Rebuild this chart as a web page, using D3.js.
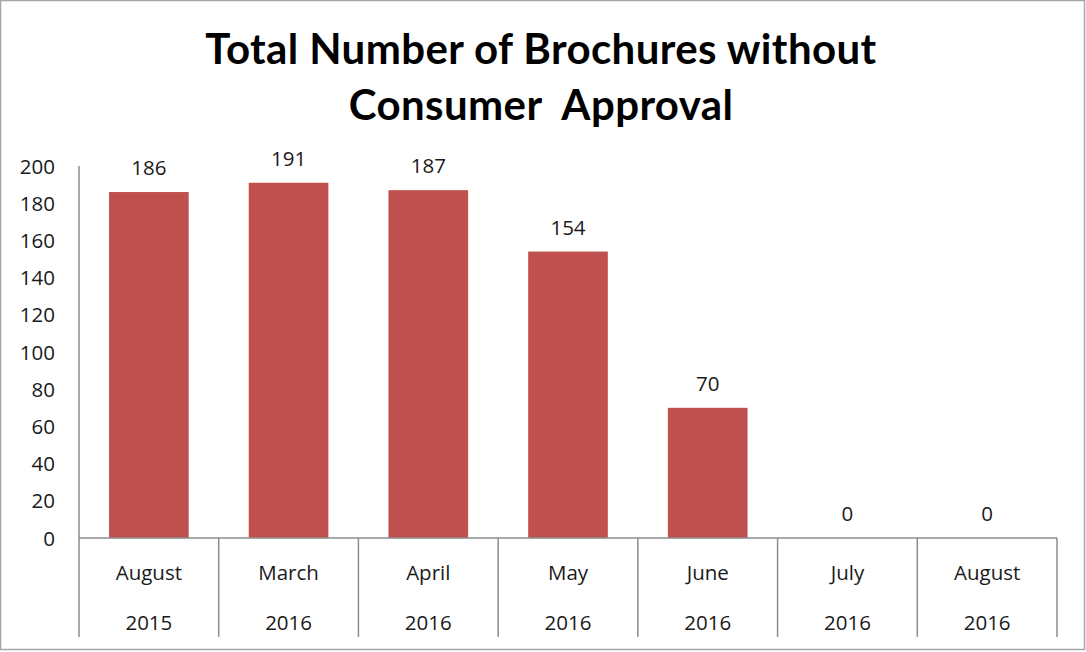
<!DOCTYPE html>
<html>
<head>
<meta charset="utf-8">
<script src="https://cdn.jsdelivr.net/npm/d3@7"></script>
<style>
  body { margin: 0; background: #fff; }
  svg { display: block; font-family: "Open Sans", "Noto Sans", sans-serif; }
</style>
</head>
<body>
<svg id="chart" width="1086" height="652"></svg>
<script>
// Chart data
var months = ["August", "March", "April", "May", "June", "July", "August"];
var years = ["2015", "2016", "2016", "2016", "2016", "2016", "2016"];
var counts = [186, 191, 187, 154, 70, 0, 0];
var yTicks = [0, 20, 40, 60, 80, 100, 120, 140, 160, 180, 200];

var width = 1086, height = 652;
var left = 79, right = 1057, zeroY = 538, topY = 166, bottomY = 637;
var labelSize = "20.5px";

var svg = d3.select("#chart");

// outer frame
svg.append("rect")
  .attr("x", 0.5).attr("y", 0.5)
  .attr("width", width - 2).attr("height", height - 3)
  .style("fill", "none").style("stroke", "#a6a6a6").style("stroke-width", 1.5);

// title
var title = svg.append("text")
  .attr("text-anchor", "middle")
  .style("font-family", "Lato, 'Open Sans', sans-serif")
  .style("font-weight", "bold")
  .style("font-size", "42px")
  .style("letter-spacing", "0.4px")
  .style("white-space", "pre")
  .style("fill", "#000");
title.append("tspan").attr("x", 541).attr("y", 64).text("Total Number of Brochures without");
title.append("tspan").attr("x", 541).attr("y", 120).text("Consumer  Approval");

var idx = d3.range(counts.length);

var x = d3.scaleBand()
  .domain(idx)
  .range([left, right])
  .paddingInner(0)
  .paddingOuter(0);

var y = d3.scaleLinear()
  .domain([0, 200])
  .range([zeroY, topY]);

// y axis
var yAxis = svg.append("g")
  .attr("transform", "translate(" + left + ",0)")
  .call(d3.axisLeft(y).tickValues(yTicks).tickSize(0).tickPadding(24));
yAxis.select(".domain").remove();
yAxis.selectAll("text")
  .style("font-family", "'Open Sans', sans-serif")
  .style("font-size", labelSize)
  .style("fill", "#1a1a1a")
  .attr("dy", "0.35em");

svg.append("line")
  .attr("x1", left).attr("x2", left)
  .attr("y1", topY).attr("y2", bottomY)
  .style("stroke", "#8c8c8c").style("stroke-width", 1.5);

// bars
svg.selectAll("rect.bar")
  .data(counts)
  .enter()
  .append("rect")
  .attr("class", "bar")
  .attr("x", function(d, i) { return x(i) + x.bandwidth() * 0.215; })
  .attr("width", x.bandwidth() * 0.57)
  .attr("y", function(d) { return y(d); })
  .attr("height", function(d) { return zeroY - y(d); })
  .style("fill", "#C0504D");

// value labels
svg.selectAll("text.val")
  .data(counts)
  .enter()
  .append("text")
  .attr("class", "val")
  .attr("x", function(d, i) { return x(i) + x.bandwidth() / 2; })
  .attr("y", function(d) { return y(d) - 17; })
  .attr("text-anchor", "middle")
  .style("font-size", labelSize)
  .style("fill", "#1a1a1a")
  .text(function(d) { return d; });

// category axis line and dividers
svg.append("line")
  .attr("x1", left).attr("x2", right)
  .attr("y1", zeroY).attr("y2", zeroY)
  .style("stroke", "#8c8c8c").style("stroke-width", 1.5);

svg.selectAll("line.div")
  .data(idx)
  .enter()
  .append("line")
  .attr("class", "div")
  .attr("x1", function(d) { return x(d) + x.bandwidth(); })
  .attr("x2", function(d) { return x(d) + x.bandwidth(); })
  .attr("y1", zeroY).attr("y2", bottomY)
  .style("stroke", "#8c8c8c").style("stroke-width", 1.5);

// category labels
svg.selectAll("text.month")
  .data(months)
  .enter()
  .append("text")
  .attr("class", "month")
  .attr("x", function(d, i) { return x(i) + x.bandwidth() / 2; })
  .attr("y", 580)
  .attr("text-anchor", "middle")
  .style("font-size", labelSize)
  .style("fill", "#1a1a1a")
  .text(function(d) { return d; });

svg.selectAll("text.year")
  .data(years)
  .enter()
  .append("text")
  .attr("class", "year")
  .attr("x", function(d, i) { return x(i) + x.bandwidth() / 2; })
  .attr("y", 630)
  .attr("text-anchor", "middle")
  .style("font-size", labelSize)
  .style("fill", "#1a1a1a")
  .text(function(d) { return d; });
</script>
</body>
</html>
